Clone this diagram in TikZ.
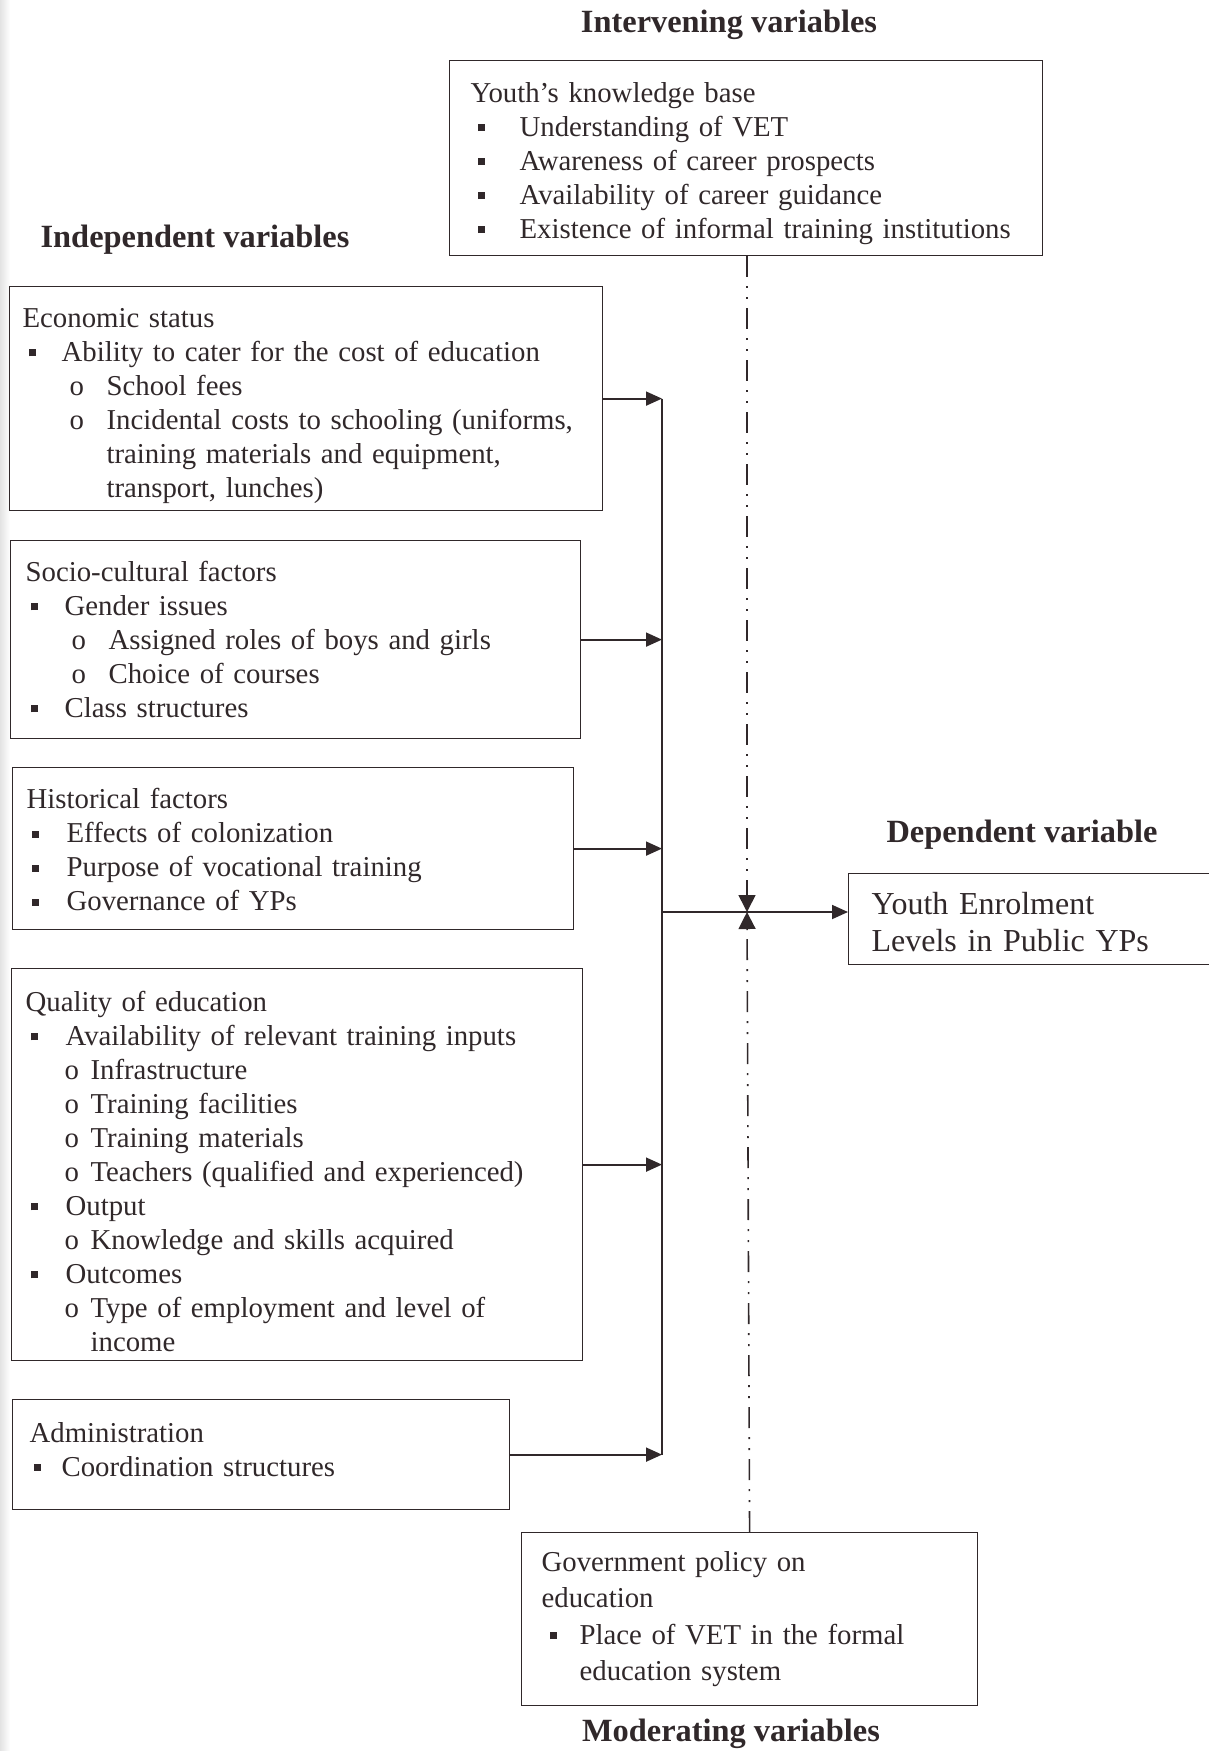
\documentclass[tikz,border=0pt]{standalone}
\usepackage{fontspec}
\setmainfont{Liberation Serif}
\usetikzlibrary{arrows.meta}
\definecolor{ink}{RGB}{48,40,42}
% list marks used inside the boxes
\newcommand{\sqb}{\raisebox{2.6pt}{\rule{3.6pt}{3.6pt}}}
\newcommand{\sqitem}[3]{\mbox{\hspace*{#1}\makebox[#2][l]{\sqb}#3}}
\newcommand{\oitem}[3]{\mbox{\hspace*{#1}\makebox[#2][l]{o}#3}}
\newcommand{\cont}[2]{\mbox{\hspace*{#1}#2}}
% struts to sit the text a little lower / higher in its box
\newcommand{\topstrut}[1]{\rule{0pt}{#1}}
\newcommand{\botstrut}[1]{\rule[-#1]{0pt}{#1}}
\tikzset{
  varbox/.style={draw=ink, line width=0.6pt, anchor=north west, align=left,
    inner ysep=0pt, text=ink, font=\fontsize{14.4}{17}\selectfont},
  vartitle/.style={text=ink, font=\fontsize{16.2}{18}\selectfont\bfseries},
  flow/.style={draw=ink, line width=0.9pt, -{Triangle[length=8pt,width=7pt]}},
  modline/.style={draw=ink, line width=0.8pt,
    dash pattern=on 10.5pt off 4.5pt on 1pt off 4.5pt on 1pt off 4.5pt,
    -{Triangle[length=8.5pt,width=8.5pt]}}
}
\begin{document}
\begin{tikzpicture}[x=0.5pt,y=-0.5pt]
    \useasboundingbox (0,0) rectangle (1209,1751);
    \shade[left color=gray!22, right color=white] (0,0) rectangle (10,1751);

    % titles
    \node[vartitle] (IVt) at (729,25) {Intervening variables};
    \node[vartitle] (INt) at (195,240) {Independent variables};
    \node[vartitle] (DVt) at (1022,835) {Dependent variable};
    \node[vartitle] (MVt) at (731,1734) {Moderating variables};

    % intervening
    \node[varbox, text width=275.5pt, inner xsep=10.5pt, minimum height=97.5pt] (KB) at (449,60) {\topstrut{15.4pt}Youth's knowledge base\\
        \sqitem{3.5pt}{21pt}{Understanding of VET}\\
        \sqitem{3.5pt}{21pt}{Awareness of career prospects}\\
        \sqitem{3.5pt}{21pt}{Availability of career guidance}\\
        \sqitem{3.5pt}{21pt}{Existence of informal training institutions}};

    % independent
    \node[varbox, text width=283.5pt, inner xsep=6.5pt, minimum height=112pt] (ES) at (9,286) {\topstrut{17pt}Economic status\\
        \sqitem{3pt}{16.5pt}{Ability to cater for the cost of education}\\
        \oitem{23.5pt}{18.5pt}{School fees}\\
        \oitem{23.5pt}{18.5pt}{Incidental costs to schooling (uniforms,}\\
        \cont{42pt}{training materials and equipment,}\\
        \cont{42pt}{transport, lunches)}};
    \node[varbox, text width=270pt, inner xsep=7.5pt, minimum height=99pt] (SC) at (10,540) {Socio-cultural factors\\
        \sqitem{2.5pt}{17pt}{Gender issues}\\
        \oitem{23pt}{18.5pt}{Assigned roles of boys and girls}\\
        \oitem{23pt}{18.5pt}{Choice of courses}\\
        \sqitem{2.5pt}{17pt}{Class structures}};
    \node[varbox, text width=266.5pt, inner xsep=7pt, minimum height=81pt] (HF) at (12,767) {\topstrut{11.5pt}Historical factors\\
        \sqitem{2.5pt}{17.5pt}{Effects of colonization}\\
        \sqitem{2.5pt}{17.5pt}{Purpose of vocational training}\\
        \sqitem{2.5pt}{17.5pt}{Governance of YPs}};
    \node[varbox, text width=271.5pt, inner xsep=7pt, minimum height=196pt] (QE) at (11,968) {\topstrut{17pt}Quality of education\\
        \sqitem{2.5pt}{17.5pt}{Availability of relevant training inputs}\\
        \oitem{19.5pt}{13pt}{Infrastructure}\\
        \oitem{19.5pt}{13pt}{Training facilities}\\
        \oitem{19.5pt}{13pt}{Training materials}\\
        \oitem{19.5pt}{13pt}{Teachers (qualified and experienced)}\\
        \sqitem{2.5pt}{17.5pt}{Output}\\
        \oitem{19.5pt}{13pt}{Knowledge and skills acquired}\\
        \sqitem{2.5pt}{17.5pt}{Outcomes}\\
        \oitem{19.5pt}{13pt}{Type of employment and level of}\\
        \cont{32.5pt}{income}};
    \node[varbox, text width=231.5pt, inner xsep=8.5pt, minimum height=55pt] (AD) at (12,1399) {Administration\\
        \sqitem{2pt}{14pt}{Coordination structures}\botstrut{5.6pt}};

    % dependent
    \node[varbox, text width=165.5pt, inner xsep=11.5pt, minimum height=45.5pt,
        font=\fontsize{16}{18.4}\selectfont] (YE) at (848,873) {\topstrut{13.7pt}Youth Enrolment\\
        Levels in Public YPs};

    % moderating
    \node[varbox, text width=208pt, inner xsep=10pt, minimum height=86.5pt,
        font=\fontsize{14.4}{18.2}\selectfont] (GP) at (521,1532) {Government policy on\\
        education\\
        \sqitem{4pt}{15pt}{Place of VET in the formal}\\
        \cont{19pt}{education system}};

    \coordinate (BUS) at (662,912);
    \coordinate (JN) at (747,912);

    \foreach \b in {ES,SC,HF,QE,AD}
        \draw[flow] (\b.east) -- (\b.east -| BUS);
    \draw[ink, line width=0.9pt] (ES.east -| BUS) -- (AD.east -| BUS);
    \draw[flow] (BUS) -- (BUS -| YE.west);

    \draw[modline] (KB.south -| JN) -- (JN);
    \draw[modline] (GP.north) -- (JN);
\end{tikzpicture}
\end{document}
